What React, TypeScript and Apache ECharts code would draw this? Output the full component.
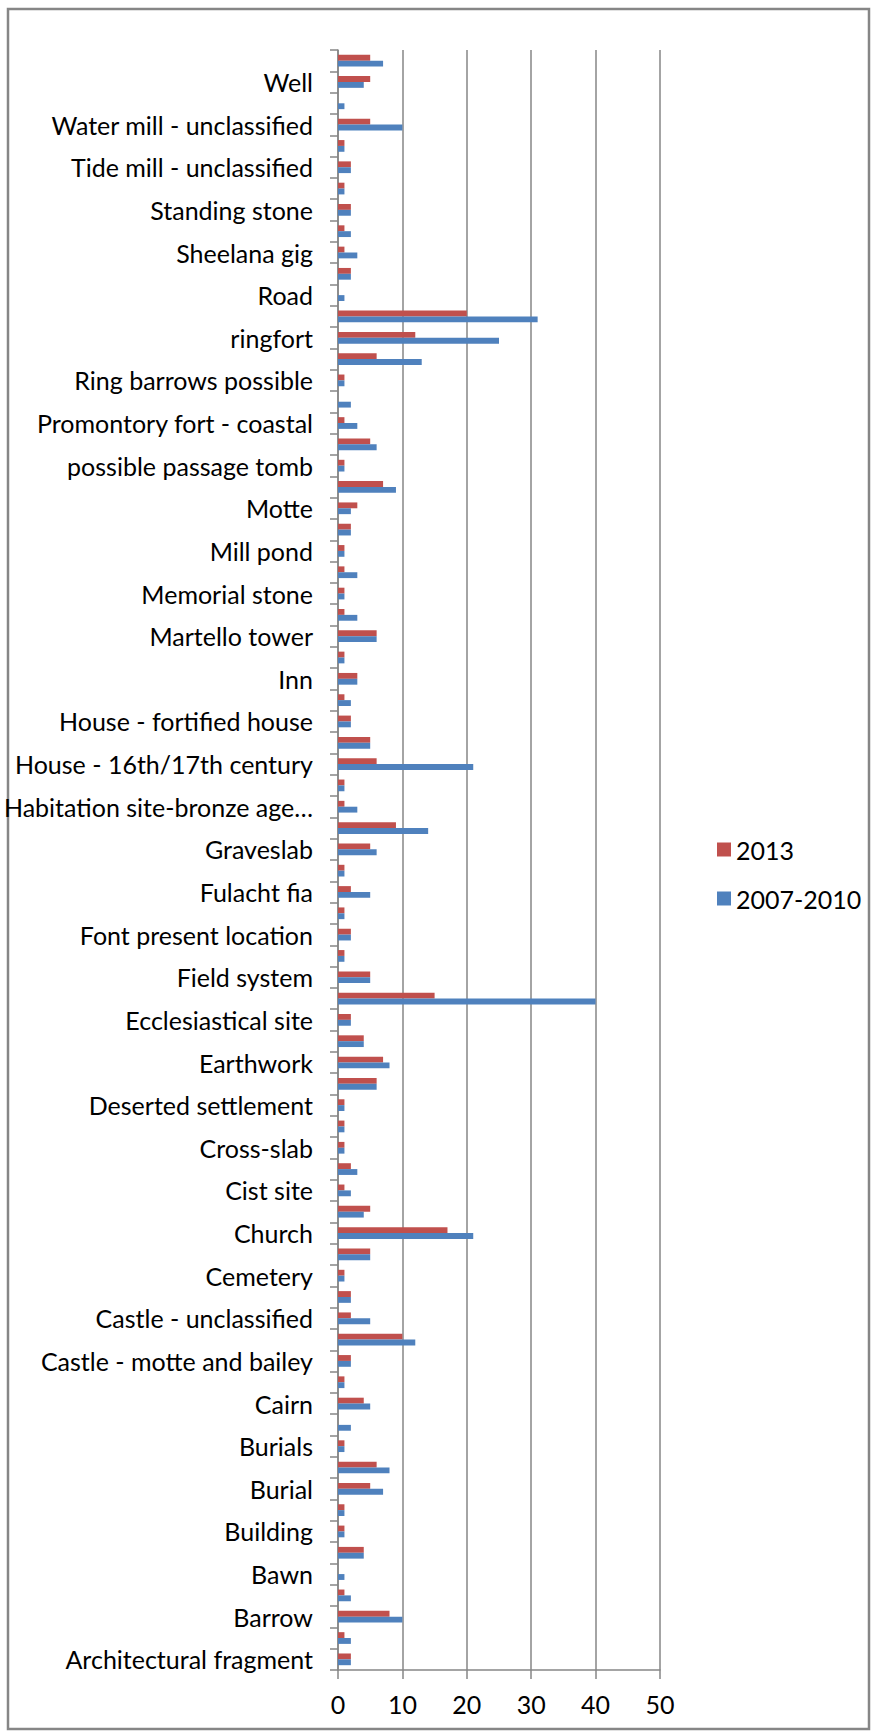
import React, { useEffect, useRef } from "react";
import * as echarts from "echarts";

// Categories from bottom (index 0) to top; only every other label is visible in the chart
const categories: string[] = [
  "Architectural fragment", "Armorial plaque", "Barrow", "Barrow - ring-barrow", "Bawn",
  "Bridge", "Building", "Bullaun stone", "Burial", "Burial ground",
  "Burials", "Burnt mound", "Cairn", "Castle - hall-house", "Castle - motte and bailey",
  "Castle - tower house", "Castle - unclassified", "Cave", "Cemetery", "Children's burial ground",
  "Church", "Church site", "Cist site", "Cross", "Cross-slab",
  "Dam", "Deserted settlement", "Dovecote", "Earthwork", "Ecclesiastical enclosure",
  "Ecclesiastical site", "Enclosure", "Field system", "Font", "Font present location",
  "Fort", "Fulacht fia", "Gate", "Graveslab", "Habitation site",
  "Habitation site-bronze age…", "Holy well", "House - 16th/17th century", "House - 18th/19th century", "House - fortified house",
  "Hut site", "Inn", "Kiln", "Martello tower", "Megalithic tomb",
  "Memorial stone", "Mill - unclassified", "Mill pond", "Moated site", "Motte",
  "Mound", "possible passage tomb", "Prehistoric site", "Promontory fort - coastal", "Quarry",
  "Ring barrows possible", "Ring-ditch", "ringfort", "Ringfort - rath", "Road",
  "Settlement cluster", "Sheelana gig", "Souterrain", "Standing stone", "Stone head",
  "Tide mill - unclassified", "Tower", "Water mill - unclassified", "Weir", "Well",
  "Windmill",
];

const values2013: number[] = [
  2, 1, 8, 1, 0,
  4, 1, 1, 5, 6,
  1, 0, 4, 1, 2,
  10, 2, 2, 1, 5,
  17, 5, 1, 2, 1,
  1, 1, 6, 7, 4,
  2, 15, 5, 1, 2,
  1, 2, 1, 5, 9,
  1, 1, 6, 5, 2,
  1, 3, 1, 6, 1,
  1, 1, 1, 2, 3,
  7, 1, 5, 1, 0,
  1, 6, 12, 20, 0,
  2, 1, 1, 2, 1,
  2, 1, 5, 0, 5,
  5,
];

const values2007: number[] = [
  2, 2, 10, 2, 1,
  4, 1, 1, 7, 8,
  1, 2, 5, 1, 2,
  12, 5, 2, 1, 5,
  21, 4, 2, 3, 1,
  1, 1, 6, 8, 4,
  2, 40, 5, 1, 2,
  1, 5, 1, 6, 14,
  3, 1, 21, 5, 2,
  2, 3, 1, 6, 3,
  1, 3, 1, 2, 2,
  9, 1, 6, 3, 2,
  1, 13, 25, 31, 1,
  2, 3, 2, 2, 1,
  2, 1, 10, 1, 4,
  7,
];

const seriesNames: string[] = ["2013", "2007-2010"];
const xTicks = { min: 0, max: 50, interval: 10 };

const FONT = "Lato";
const FS = 25;
const GREY = "#868686";

export default function App() {
  const ref = useRef<HTMLDivElement>(null);

  useEffect(() => {
    if (!ref.current) return;
    const chart = echarts.init(ref.current, undefined, { renderer: "svg" });
    chart.setOption({
      animation: false,
      backgroundColor: "#ffffff",
      textStyle: { fontFamily: FONT },
      graphic: [
        {
          type: "rect",
          shape: { x: 8, y: 9, width: 861, height: 1720 },
          style: { fill: "none", stroke: GREY, lineWidth: 2.5 },
          silent: true,
        },
      ],
      legend: {
        orient: "vertical",
        left: 712,
        top: 832,
        itemWidth: 14,
        itemHeight: 14,
        itemGap: 24,
        icon: "rect",
        data: seriesNames,
        textStyle: { fontFamily: FONT, fontSize: FS, color: "#000" },
      },
      grid: { left: 338, right: 211, top: 50, bottom: 61, containLabel: false },
      xAxis: {
        type: "value",
        min: xTicks.min,
        max: xTicks.max,
        interval: xTicks.interval,
        axisLine: { show: true, lineStyle: { color: GREY, width: 1.5 } },
        axisTick: { show: true, length: 9, lineStyle: { color: GREY, width: 1.5 } },
        splitLine: { show: true, lineStyle: { color: GREY, width: 1.5 } },
        axisLabel: { fontFamily: FONT, fontSize: FS, color: "#000", margin: 21 },
      },
      yAxis: {
        type: "category",
        data: categories,
        boundaryGap: true,
        axisLine: { show: true, lineStyle: { color: GREY, width: 1.5 } },
        axisTick: { show: true, length: 8, interval: 0, lineStyle: { color: GREY, width: 1.5 } },
        axisLabel: { interval: 1, fontFamily: FONT, fontSize: FS, color: "#000", margin: 25 },
        splitLine: { show: false },
      },
      series: [
        {
          name: seriesNames[0],
          type: "bar",
          data: values2013,
          itemStyle: { color: "#C0504D" },
          barGap: "0%",
          barCategoryGap: "45%",
        },
        {
          name: seriesNames[1],
          type: "bar",
          data: values2007,
          itemStyle: { color: "#4F81BD" },
          barGap: "0%",
          barCategoryGap: "45%",
        },
      ],
    });
    return () => chart.dispose();
  }, []);

  return (
    <div
      ref={ref}
      style={{ position: "absolute", left: 0, top: 0, width: 871, height: 1731 }}
    />
  );
}
